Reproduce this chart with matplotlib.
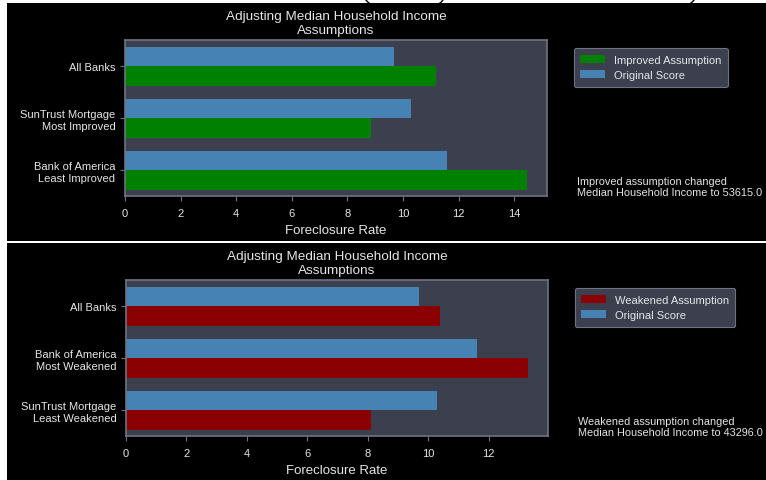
import matplotlib
matplotlib.use("Agg")
import numpy as np
import matplotlib.pyplot as plt
from matplotlib.patches import Rectangle, Arc
from matplotlib.transforms import IdentityTransform

# Data (rows listed bottom to top, as drawn)
improved_labels = ["Bank of America\nLeast Improved", "SunTrust Mortgage\nMost Improved", "All Banks"]
improved_values = [14.46, 8.85, 11.19]
improved_original = [11.57, 10.29, 9.68]

weakened_labels = ["SunTrust Mortgage\nLeast Weakened", "Bank of America\nMost Weakened", "All Banks"]
weakened_values = [8.1, 13.3, 10.4]
weakened_original = [10.3, 11.6, 9.7]

improved_note = "Improved assumption changed\nMedian Household Income to 53615.0"
weakened_note = "Weakened assumption changed\nMedian Household Income to 43296.0"

title = "Adjusting Median Household Income\nAssumptions"

plt.rcParams["font.family"] = ["Liberation Sans", "DejaVu Sans"]

W, H = 766, 481
TEXT = "#e6e6e6"
FACE = "#3b3f4e"
SPINE = "#6e7382"


def px_rect(left, top, right, bottom):
    return [left / W, (H - bottom) / H, (right - left) / W, (bottom - top) / H]


def draw_panel(ax, labels, values, original, color, name, note):
    y = np.arange(len(labels))
    h = 0.375
    ax.barh(y - h / 2, values, height=h, color=color, label=name)
    ax.barh(y + h / 2, original, height=h, color="steelblue", label="Original Score")
    ax.set_yticks(y)
    ax.set_yticklabels(labels, fontsize=9, color=TEXT)
    ax.set_ylim(-0.5, len(labels) - 0.5)
    ax.set_xlim(0, max(max(values), max(original)) * 1.05)
    ax.set_facecolor(FACE)
    for s in ax.spines.values():
        s.set_color(SPINE)
        s.set_linewidth(1.2)
    ax.tick_params(colors=TEXT, labelsize=8, length=3.5)
    ax.tick_params(axis="x", pad=5.5)
    ax.tick_params(axis="both", color=SPINE)
    ax.set_xlabel("Foreclosure Rate", fontsize=9.5, color=TEXT, labelpad=4)
    ax.set_title(title, fontsize=9.7, color=TEXT, pad=5)
    leg = ax.legend(loc="upper left", bbox_to_anchor=(1.05, 0.985), fontsize=8,
                    facecolor=FACE, edgecolor=SPINE, framealpha=1, labelcolor=TEXT,
                    borderpad=0.6, handlelength=2.2)
    leg.get_frame().set_linewidth(0.8)
    ax.text(1.072, 0.06, note, transform=ax.transAxes, fontsize=7.8, color=TEXT,
            va="center", ha="left", linespacing=1.05, clip_on=False)


fig = plt.figure(figsize=(W / 100, H / 100), dpi=100, facecolor="black")

ax1 = fig.add_axes(px_rect(125, 41, 547, 197))
draw_panel(ax1, improved_labels, improved_values, improved_original,
           "green", "Improved Assumption", improved_note)

ax2 = fig.add_axes(px_rect(126, 281, 548, 437))
draw_panel(ax2, weakened_labels, weakened_values, weakened_original,
           "darkred", "Weakened Assumption", weakened_note)

# white borders left over from stitching the two screenshots
for r in [(0, 0, 7 / W, 1), (0, 1 - 4 / H, 1, 4 / H), (0, (H - 244) / H, 1, 2 / H)]:
    fig.add_artist(Rectangle(r[:2], r[2], r[3], transform=fig.transFigure,
                             facecolor="white", edgecolor="none", zorder=5))
# bottoms of the brackets of a cropped caption above
for cx, t1, t2 in [(378, 200, 250), (431, 290, 340), (682, 290, 340)]:
    fig.add_artist(Arc((cx, H + 8), 30, 30, theta1=t1, theta2=t2, color="black",
                       lw=1.0, transform=IdentityTransform(), zorder=6))

fig.savefig("out.png", dpi=100, facecolor="black")
